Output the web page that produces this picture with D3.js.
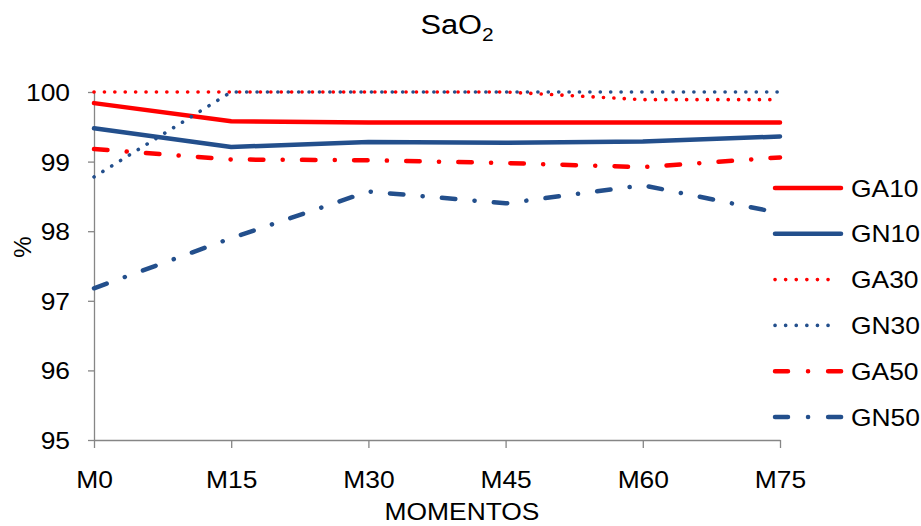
<!DOCTYPE html>
<html>
<head>
<meta charset="utf-8">
<script src="https://cdn.jsdelivr.net/npm/d3@7"></script>
<style>
  html, body { margin: 0; padding: 0; background: #fff; }
  svg { display: block; font-family: "Liberation Sans", Arial, sans-serif; }
</style>
</head>
<body>
<svg id="chart" width="921" height="526"></svg>
<script>
// Time points (minutes) and SaO2 (%) per group
const momentos = ["M0", "M15", "M30", "M45", "M60", "M75"];
const yTicks = [95, 96, 97, 98, 99, 100];

const GA10 = [99.84, 99.58, 99.56, 99.56, 99.56, 99.56];
const GN10 = [99.48, 99.21, 99.28, 99.27, 99.29, 99.36];
const GA30 = [100, 100, 100, 100, 99.89, 99.89];
const GN30 = [98.78, 100, 100, 100, 100, 100];
const GA50 = [99.18, 99.03, 99.02, 98.98, 98.92, 99.06];
const GN50 = [97.18, 97.90, 98.57, 98.40, 98.66, 98.26];

const seriesNames = ["GA10", "GN10", "GA30", "GN30", "GA50", "GN50"];
const seriesValues = [GA10, GN10, GA30, GN30, GA50, GN50];

const RED = "#ff0000", BLUE = "#234f8c";
const styles = {
  GA10: { color: RED,  width: 4.5, dash: null },
  GN10: { color: BLUE, width: 4.5, dash: null },
  GA30: { color: RED,  width: 3.6, dash: "0.1 10.3" },
  GN30: { color: BLUE, width: 3.6, dash: "0.1 10.3" },
  GA50: { color: RED,  width: 4.5, dash: "13.5 19.25 0.1 19.25" },
  GN50: { color: BLUE, width: 4.5, dash: "13.5 19.25 0.1 19.25" }
};

const STRETCH = 1.1;   // horizontal text stretch
const AXIS = "#868686";

const svg = d3.select("#chart");

const x = d3.scalePoint().domain(momentos).range([94, 780]);
const y = d3.scaleLinear().domain([95, 100]).range([440, 92]);

// Title with subscript
const title = svg.append("text")
  .attr("transform", `translate(457,34) scale(${STRETCH},1)`)
  .attr("text-anchor", "middle")
  .style("font-size", "28px")
  .attr("fill", "#000");
title.append("tspan").text("SaO");
title.append("tspan").attr("dy", 7).style("font-size", "19px").text("2");

// Y axis
const yAxis = svg.append("g")
  .attr("transform", "translate(94,0)")
  .call(d3.axisLeft(y).tickValues(yTicks).tickSize(6).tickSizeOuter(0).tickFormat(d3.format("d")));
yAxis.select(".domain").attr("stroke", AXIS).attr("stroke-width", 1.3);
yAxis.selectAll(".tick line").attr("stroke", AXIS).attr("stroke-width", 1.3);
yAxis.selectAll(".tick text")
  .attr("x", 0).attr("dy", null).attr("y", 8.5)
  .attr("transform", `translate(-24,0) scale(${STRETCH},1)`)
  .style("font-size", "24px").attr("fill", "#000");

// X axis
const xAxis = svg.append("g")
  .attr("transform", "translate(0,440)")
  .call(d3.axisBottom(x).tickSize(8).tickSizeOuter(0));
xAxis.select(".domain").attr("stroke", AXIS).attr("stroke-width", 1.3);
xAxis.selectAll(".tick line").attr("stroke", AXIS).attr("stroke-width", 1.3);
xAxis.selectAll(".tick text")
  .attr("y", 48).attr("dy", null)
  .attr("transform", `scale(${STRETCH},1)`)
  .style("font-size", "24px").attr("fill", "#000");

// Axis titles
svg.append("text")
  .attr("transform", `translate(462,520) scale(${STRETCH},1)`)
  .attr("text-anchor", "middle")
  .style("font-size", "24px")
  .text("MOMENTOS");

svg.append("text")
  .attr("transform", "translate(31,247) rotate(-90)")
  .attr("text-anchor", "middle")
  .style("font-size", "24px")
  .text("%");

// Series lines
const line = d3.line()
  .x((d, i) => x(momentos[i]))
  .y(d => y(d));

seriesNames.forEach((name, k) => {
  const s = styles[name];
  svg.append("path")
    .datum(seriesValues[k])
    .attr("d", line)
    .attr("fill", "none")
    .attr("stroke", s.color)
    .attr("stroke-width", s.width)
    .attr("stroke-linecap", "round")
    .attr("stroke-linejoin", "round")
    .attr("stroke-dasharray", s.dash);
});

// Legend
const legend = svg.append("g");
seriesNames.forEach((name, k) => {
  const s = styles[name];
  const cy = 188 + k * 45.8;
  const g = legend.append("g").attr("transform", `translate(0,${cy})`);
  let dash = s.dash;
  let x0 = 775, x1 = 841;
  if (name === "GA30" || name === "GN30") { x0 = 775; x1 = 838; dash = "0.1 10.5"; }
  if (name === "GA50" || name === "GN50") { x0 = 775; x1 = 842; dash = "13 20 0.1 20 13"; }
  g.append("line")
    .attr("x1", x0).attr("x2", x1).attr("y1", 0).attr("y2", 0)
    .attr("stroke", s.color)
    .attr("stroke-width", s.width)
    .attr("stroke-linecap", "round")
    .attr("stroke-dasharray", dash);
  g.append("text")
    .attr("transform", `translate(851,8.5) scale(${STRETCH},1)`)
    .style("font-size", "24px")
    .text(name);
});
</script>
</body>
</html>
